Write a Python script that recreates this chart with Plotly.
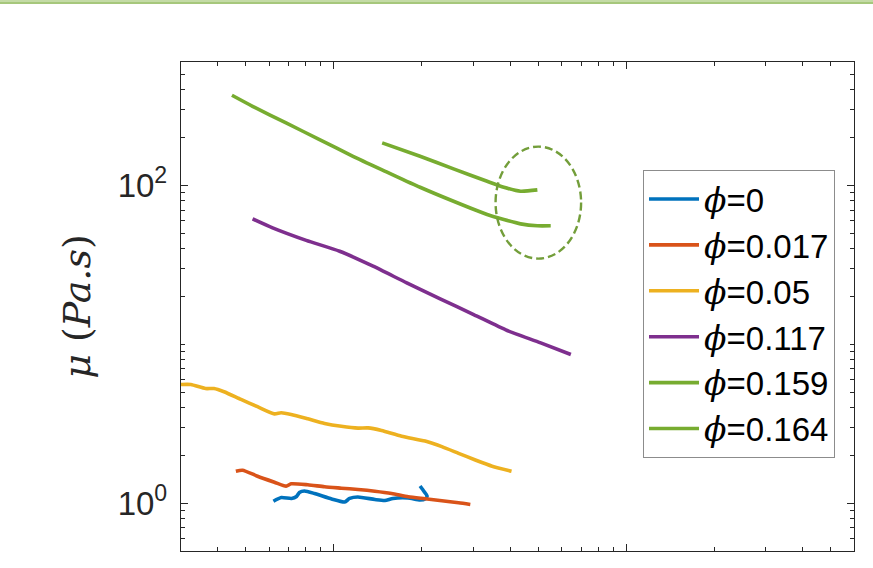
import math
import plotly.graph_objects as go

# ---- data (x: shear rate, arbitrary decade units; y: viscosity Pa.s)
phi_labels = ["0", "0.017", "0.05", "0.117", "0.159", "0.164"]
colors = ["#0072BD", "#D95319", "#EDB120", "#7E2F8E", "#77AC30", "#77AC30"]

x_phi0 = [0.621, 0.661, 0.716, 0.745, 0.762, 0.793, 0.858, 0.982, 1.088, 1.132, 1.206,
          1.380, 1.494, 1.591, 1.792, 1.970, 2.050, 2.083, 2.033, 1.970]
y_phi0 = [1.029, 1.086, 1.071, 1.102, 1.168, 1.193, 1.151, 1.063, 1.018, 1.071, 1.094,
          1.055, 1.040, 1.071, 1.078, 1.047, 1.063, 1.110, 1.185, 1.283]

x_phi017 = [0.462, 0.487, 0.548, 0.626, 0.686, 0.714, 0.814, 0.929, 1.060, 1.209, 1.380,
            1.575, 1.796, 2.050, 2.339, 2.668, 2.926]
y_phi017 = [1.590, 1.613, 1.479, 1.356, 1.280, 1.325, 1.306, 1.268, 1.243, 1.220, 1.190,
            1.151, 1.097, 1.066, 1.035, 1.006, 0.981]

x_phi05 = [0.300, 0.324, 0.364, 0.389, 0.421, 0.481, 0.548, 0.626, 0.660, 0.714, 0.814,
           0.929, 1.060, 1.209, 1.309, 1.455, 1.704, 2.050, 2.339, 2.668, 3.044, 3.474, 4.048]
y_phi05 = [5.59, 5.59, 5.27, 5.27, 5.03, 4.50, 4.05, 3.65, 3.71, 3.62, 3.40,
           3.18, 3.05, 2.97, 2.98, 2.87, 2.64, 2.46, 2.27, 2.06, 1.87, 1.71, 1.59]

x_phi117 = [0.527, 0.617, 0.804, 1.046, 1.361, 1.774, 2.308, 3.004, 3.912, 5.093, 6.457]
y_phi117 = [61.7, 54.2, 45.2, 38.6, 31.05, 24.4, 19.36, 15.41, 12.23, 10.23, 8.63]

x_phi159 = [0.448, 0.527, 0.686, 0.893, 1.162, 1.513, 1.970, 2.564, 3.340, 3.809, 4.346,
            4.961, 5.511]
y_phi159 = [370.3, 315.6, 248.1, 194.8, 152.9, 122.0, 97.6, 79.65, 65.7, 61.1, 57.4,
            55.8, 55.8]

x_phi164 = [1.462, 1.970, 2.564, 3.340, 3.809, 4.346, 4.961]
y_phi164 = [185.7, 152.9, 127.4, 106.4, 97.6, 92.1, 93.95]

series_x = [x_phi0, x_phi017, x_phi05, x_phi117, x_phi159, x_phi164]
series_y = [y_phi0, y_phi017, y_phi05, y_phi117, y_phi159, y_phi164]

# axis ranges and ticks
x_range = [0.3, 60]
y_range = [0.5, 600]
x_major = [1, 10]
y_major = [1, 100]
y_major_text = ["10<sup>0</sup>", "10<sup>2</sup>"]
x_minor = [0.3, 0.4, 0.5, 0.6, 0.7, 0.8, 0.9, 2, 3, 4, 5, 6, 7, 8, 9, 20, 30, 40, 50, 60]
y_minor = [0.5, 0.6, 0.7, 0.8, 0.9, 2, 3, 4, 5, 6, 7, 8, 9, 10, 20, 30, 40, 50, 60, 70, 80, 90,
           200, 300, 400, 500, 600]

# highlight ellipse (data coordinates)
ellipse_x = [3.57, 7.0]
ellipse_y = [34.7, 176.0]

fig = go.Figure()
for lab, col, xs, ys in zip(phi_labels, colors, series_x, series_y):
    fig.add_trace(go.Scatter(
        x=xs, y=ys, mode="lines",
        line=dict(color=col, width=3.6, shape="spline", smoothing=0.6),
        name='<span style="font-family:DejaVu Serif"><i>ϕ</i></span>=' + lab,
    ))

axis_common = dict(
    type="log",
    showgrid=False,
    zeroline=False,
    showline=True,
    linecolor="#262626",
    linewidth=1.4,
    mirror="allticks",
    ticks="inside",
    ticklen=7,
    tickwidth=1.3,
    tickcolor="#262626",
)

fig.update_xaxes(
    **axis_common,
    range=[math.log10(x_range[0]), math.log10(x_range[1])],
    tickmode="array",
    tickvals=x_major,
    showticklabels=False,
    minor=dict(tickmode="array", tickvals=x_minor, ticks="inside", ticklen=4,
               tickwidth=1.2, tickcolor="#262626", showgrid=False),
)
fig.update_yaxes(
    **axis_common,
    range=[math.log10(y_range[0]), math.log10(y_range[1])],
    tickmode="array",
    tickvals=y_major,
    ticktext=y_major_text,
    tickfont=dict(family="Liberation Sans", size=33, color="#262626"),
    ticklabelstandoff=6,
    minor=dict(tickmode="array", tickvals=y_minor, ticks="inside", ticklen=4,
               tickwidth=1.2, tickcolor="#262626", showgrid=False),
    title=dict(text="<i>μ</i> (<i>Pa.s</i>)",
               font=dict(family="DejaVu Serif", size=38, color="#262626"),
               standoff=15),
)

fig.add_shape(type="circle", xref="x", yref="y",
              x0=ellipse_x[0], x1=ellipse_x[1], y0=ellipse_y[0], y1=ellipse_y[1],
              line=dict(color="#739E3A", width=2.4, dash="8px,4px"))

# decorative green strip along the top of the image
fig.add_shape(type="rect", xref="paper", yref="paper",
              x0=-0.27, x1=1.03, y0=1.1227, y1=1.13,
              line=dict(width=0), fillcolor="#C4DBA6", layer="above")
fig.add_shape(type="rect", xref="paper", yref="paper",
              x0=-0.27, x1=1.03, y0=1.1186, y1=1.1227,
              line=dict(width=0), fillcolor="#A6C77C", layer="above")

fig.update_layout(
    width=873, height=568,
    margin=dict(l=181, r=19, t=62, b=17),
    paper_bgcolor="white",
    plot_bgcolor="white",
    showlegend=True,
    legend=dict(
        x=0.6865, y=0.779, xanchor="left", yanchor="top",
        bgcolor="white", bordercolor="#8C8C8C", borderwidth=1,
        font=dict(family="Liberation Sans", size=33, color="black"),
        itemwidth=50,
    ),
)

fig.write_html("out.html", config={"displayModeBar": False},
               post_script="document.body.style.margin='0px';")
